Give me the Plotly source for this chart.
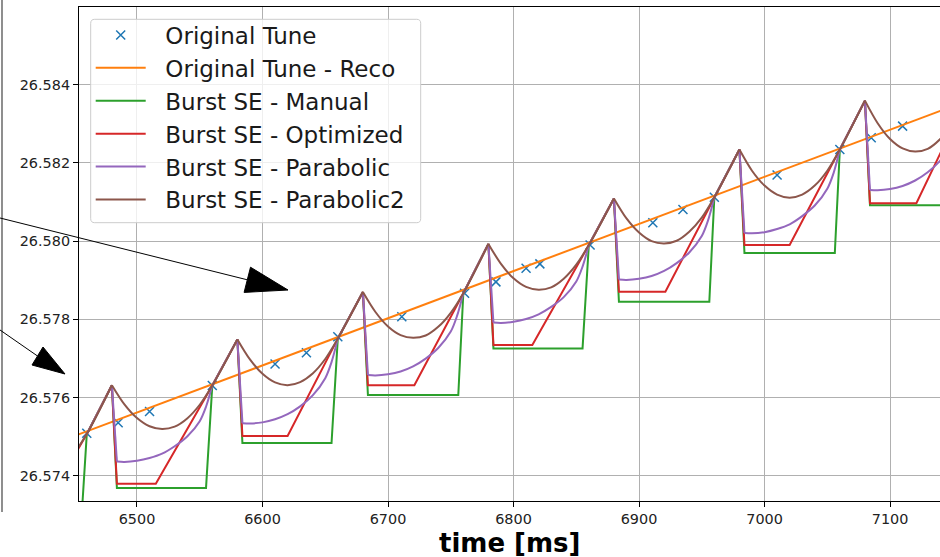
import plotly.graph_objects as go

# ---------------- data ----------------
tune_t = [6460, 6485, 6510, 6560, 6610, 6635, 6660, 6711, 6761, 6786,
          6810, 6821, 6861, 6911, 6935, 6960, 7010, 7060, 7085, 7110]
tune_v = [26.57509, 26.57536, 26.57565, 26.57631, 26.57686, 26.57715, 26.57756,
          26.57807, 26.57867, 26.57896, 26.57931, 26.57942, 26.57990, 26.58047,
          26.58081, 26.58112, 26.58169, 26.58234, 26.58264, 26.58294]

reco_t = [6450, 7150]
reco_v = [26.57502, 26.58345]

manual_t = [6440, 6455, 6460,
            6480, 6484, 6555, 6560,
            6580, 6584, 6655, 6660,
            6680, 6684, 6756, 6760,
            6780, 6784, 6855, 6860,
            6880, 6884, 6956, 6960,
            6980, 6984, 7056, 7060,
            7080, 7084, 7156, 7160]
manual_v = [26.57252, 26.57252, 26.57507,
            26.57632, 26.57369, 26.57369, 26.57631,
            26.57749, 26.57484, 26.57484, 26.57751,
            26.57870, 26.57607, 26.57607, 26.57867,
            26.57993, 26.57726, 26.57726, 26.57990,
            26.58109, 26.57845, 26.57845, 26.58112,
            26.58234, 26.57970, 26.57970, 26.58234,
            26.58359, 26.58092, 26.58092, 26.58358]

opt_t = [6415, 6460,
         6480, 6484, 6515, 6560,
         6580, 6584, 6620, 6660,
         6680, 6684, 6721, 6760,
         6780, 6784, 6815, 6860,
         6880, 6884, 6921, 6960,
         6980, 6984, 7020, 7060,
         7080, 7084, 7121, 7160]
opt_v = [26.57260, 26.57507,
         26.57632, 26.57380, 26.57380, 26.57631,
         26.57749, 26.57502, 26.57502, 26.57751,
         26.57870, 26.57632, 26.57632, 26.57867,
         26.57993, 26.57735, 26.57735, 26.57990,
         26.58109, 26.57871, 26.57871, 26.58112,
         26.58234, 26.57990, 26.57990, 26.58234,
         26.58359, 26.58097, 26.58097, 26.58358]

para_t = [6460,
          6480, 6484, 6490, 6500, 6510, 6520, 6530, 6540, 6550, 6555, 6560,
          6580, 6584, 6590, 6600, 6610, 6620, 6630, 6640, 6650, 6655, 6660,
          6680, 6684, 6690, 6700, 6710, 6720, 6730, 6740, 6750, 6755, 6760,
          6780, 6784, 6790, 6800, 6810, 6820, 6830, 6840, 6850, 6855, 6860,
          6880, 6884, 6890, 6900, 6910, 6920, 6930, 6940, 6950, 6955, 6960,
          6980, 6984, 6990, 7000, 7010, 7020, 7030, 7040, 7050, 7055, 7060,
          7080, 7084, 7090, 7100, 7110, 7120, 7130, 7140, 7150]
para_v = [26.57507,
          26.57632, 26.57437, 26.57436, 26.57439, 26.57446, 26.57457, 26.57476, 26.57501, 26.57540, 26.57577, 26.57631,
          26.57749, 26.57535, 26.57534, 26.57537, 26.57545, 26.57558, 26.57578, 26.57606, 26.57650, 26.57691, 26.57751,
          26.57870, 26.57658, 26.57657, 26.57660, 26.57667, 26.57680, 26.57700, 26.57727, 26.57769, 26.57809, 26.57867,
          26.57993, 26.57792, 26.57791, 26.57794, 26.57801, 26.57813, 26.57832, 26.57857, 26.57897, 26.57935, 26.57990,
          26.58109, 26.57902, 26.57901, 26.57904, 26.57911, 26.57924, 26.57944, 26.57971, 26.58013, 26.58053, 26.58112,
          26.58234, 26.58021, 26.58020, 26.58023, 26.58031, 26.58043, 26.58064, 26.58091, 26.58134, 26.58174, 26.58234,
          26.58359, 26.58131, 26.58130, 26.58133, 26.58141, 26.58155, 26.58176, 26.58206, 26.58251]

para2_t = [6450, 6460,
           6480, 6490, 6500, 6510, 6520, 6530, 6540, 6550, 6560,
           6580, 6590, 6600, 6610, 6620, 6630, 6640, 6650, 6660,
           6680, 6690, 6700, 6710, 6720, 6730, 6740, 6750, 6760,
           6780, 6790, 6800, 6810, 6820, 6830, 6840, 6850, 6860,
           6880, 6890, 6900, 6910, 6920, 6930, 6940, 6950, 6960,
           6980, 6990, 7000, 7010, 7020, 7030, 7040, 7050, 7060,
           7080, 7090, 7100, 7110, 7120, 7130, 7140, 7150]
para2_v = [26.57458, 26.57507,
           26.57632, 26.57583, 26.57548, 26.57527, 26.57520, 26.57526, 26.57547, 26.57582, 26.57631,
           26.57749, 26.57698, 26.57661, 26.57639, 26.57632, 26.57640, 26.57662, 26.57699, 26.57751,
           26.57870, 26.57819, 26.57782, 26.57760, 26.57753, 26.57759, 26.57781, 26.57817, 26.57867,
           26.57993, 26.57942, 26.57905, 26.57883, 26.57876, 26.57882, 26.57904, 26.57940, 26.57990,
           26.58109, 26.58058, 26.58022, 26.58000, 26.57994, 26.58001, 26.58024, 26.58060, 26.58112,
           26.58234, 26.58180, 26.58142, 26.58119, 26.58111, 26.58119, 26.58142, 26.58180, 26.58234,
           26.58359, 26.58302, 26.58261, 26.58237, 26.58229, 26.58236, 26.58261, 26.58301]

x_ticks = [6500, 6600, 6700, 6800, 6900, 7000, 7100]
y_ticks = [26.574, 26.576, 26.578, 26.580, 26.582, 26.584]

# ---------------- layout constants ----------------
W, H = 940, 557
ML, MR, MT, MB = 79, 0, 7, 56
PW, PH = W - ML - MR, H - MT - MB
FONT = "DejaVu Sans"
NB = "\u00a0\u00a0"


def paper(x, y):
    return (x - ML) / PW, (H - MB - y) / PH


def peaks(v):
    return [i for i in range(1, len(v) - 1) if v[i] > v[i - 1] and v[i] > v[i + 1]]


def segmented(t, v, cuts):
    """Break a polyline at the given indices so spline smoothing keeps the cusps sharp."""
    xs, ys = [], []
    for i in range(len(t)):
        xs.append(t[i])
        ys.append(v[i])
        if i in cuts and 0 < i < len(t) - 1:
            xs += [None, t[i]]
            ys += [None, v[i]]
    return xs, ys


pk2 = set(peaks(para2_v))
b_x, b_y = segmented(para2_t, para2_v, pk2)
pk1 = peaks(para_v)
cuts1 = set(pk1) | {i + 1 for i in pk1} | {i - 1 for i in pk1}
p_x, p_y = segmented(para_t, para_v, cuts1)

fig = go.Figure()
fig.add_trace(go.Scatter(x=tune_t, y=tune_v, mode="markers", name=NB + "Original Tune",
                         marker=dict(symbol="x-thin", size=9, color="#1f77b4",
                                     line=dict(color="#1f77b4", width=1.5))))
fig.add_trace(go.Scatter(x=reco_t, y=reco_v, mode="lines", name=NB + "Original Tune - Reco",
                         line=dict(color="#ff7f0e", width=2)))
fig.add_trace(go.Scatter(x=manual_t, y=manual_v, mode="lines", name=NB + "Burst SE - Manual",
                         line=dict(color="#2ca02c", width=2)))
fig.add_trace(go.Scatter(x=opt_t, y=opt_v, mode="lines", name=NB + "Burst SE - Optimized",
                         line=dict(color="#d62728", width=2)))
fig.add_trace(go.Scatter(x=p_x, y=p_y, mode="lines", name=NB + "Burst SE - Parabolic",
                         connectgaps=False,
                         line=dict(color="#9467bd", width=2, shape="spline", smoothing=0.9)))
fig.add_trace(go.Scatter(x=b_x, y=b_y, mode="lines", name=NB + "Burst SE - Parabolic2",
                         connectgaps=False,
                         line=dict(color="#8c564b", width=2, shape="spline", smoothing=0.9)))

shapes = []
# frame edge of the neighbouring panel on the left
x0, y0 = paper(2, -2)
x1, y1 = paper(2, 512)
shapes.append(dict(type="line", xref="paper", yref="paper", x0=x0, y0=y0, x1=x1, y1=y1,
                   line=dict(color="#444444", width=1.2)))


def arrow(tail, base, tip, left, right):
    ax0, ay0 = paper(*tail)
    ax1, ay1 = paper(*base)
    shapes.append(dict(type="line", xref="paper", yref="paper", x0=ax0, y0=ay0, x1=ax1, y1=ay1,
                       line=dict(color="black", width=1)))
    pts = [paper(*tip), paper(*left), paper(*right)]
    path = "M{},{} L{},{} L{},{} Z".format(pts[0][0], pts[0][1], pts[1][0], pts[1][1],
                                          pts[2][0], pts[2][1])
    shapes.append(dict(type="path", xref="paper", yref="paper", path=path,
                       fillcolor="black", line=dict(color="black", width=1)))


arrow((-2, 217.5), (247.3, 279.8), (288, 290), (250.5, 267.2), (244.1, 292.4))
arrow((-2, 328.6), (37.5, 356), (65, 374), (43, 347), (32, 365))

# rounded legend frame
bx0, by0, bx1, by1, r = 90.7, 19.3, 420.7, 222.7, 4


def P(x, y):
    a, b = paper(x, y)
    return "{:.6f},{:.6f}".format(a, b)


frame = ("M" + P(bx0 + r, by0) + " L" + P(bx1 - r, by0) + " Q" + P(bx1, by0) + " " + P(bx1, by0 + r) +
         " L" + P(bx1, by1 - r) + " Q" + P(bx1, by1) + " " + P(bx1 - r, by1) +
         " L" + P(bx0 + r, by1) + " Q" + P(bx0, by1) + " " + P(bx0, by1 - r) +
         " L" + P(bx0, by0 + r) + " Q" + P(bx0, by0) + " " + P(bx0 + r, by0) + " Z")
shapes.append(dict(type="path", xref="paper", yref="paper", path=frame, layer="above",
                   fillcolor="rgba(255,255,255,0.8)", line=dict(color="#cccccc", width=1)))

lx, ly = paper(509, 543)
fig.add_annotation(x=lx, y=ly, xref="paper", yref="paper", showarrow=False,
                   text="<b>time [ms]</b>", font=dict(family=FONT, size=26, color="black"),
                   xanchor="center", yanchor="middle")

gx, gy = paper(90.7, 13.5)
fig.update_layout(
    width=W, height=H,
    margin=dict(l=ML, r=MR, t=MT, b=MB, pad=0),
    paper_bgcolor="white", plot_bgcolor="white",
    font=dict(family=FONT, color="#222222"),
    shapes=shapes,
    showlegend=True,
    legend=dict(x=gx, y=gy, xanchor="left", yanchor="top",
                bgcolor="rgba(0,0,0,0)", borderwidth=0,
                font=dict(family=FONT, size=23, color="#1a1a1a"), itemwidth=50,
                tracegroupgap=0),
    xaxis=dict(range=[6453.8, 7139.8], tickvals=x_ticks, ticktext=[str(v) for v in x_ticks],
               showgrid=True, gridcolor="#b0b0b0", gridwidth=1, zeroline=False,
               showline=True, linecolor="black", linewidth=1.1, mirror=True,
               ticks="outside", ticklen=5, tickwidth=1.1, tickcolor="black",
               tickfont=dict(family=FONT, size=14.4, color="#222222"), automargin=False),
    yaxis=dict(range=[26.573361, 26.585983], tickvals=y_ticks,
               ticktext=["{:.3f}".format(v) for v in y_ticks],
               showgrid=True, gridcolor="#b0b0b0", gridwidth=1, zeroline=False,
               showline=True, linecolor="black", linewidth=1.1, mirror=False,
               ticks="outside", ticklen=5, tickwidth=1.1, tickcolor="black",
               tickfont=dict(family=FONT, size=14.4, color="#222222"), automargin=False),
)

fig.write_html("out.html")
